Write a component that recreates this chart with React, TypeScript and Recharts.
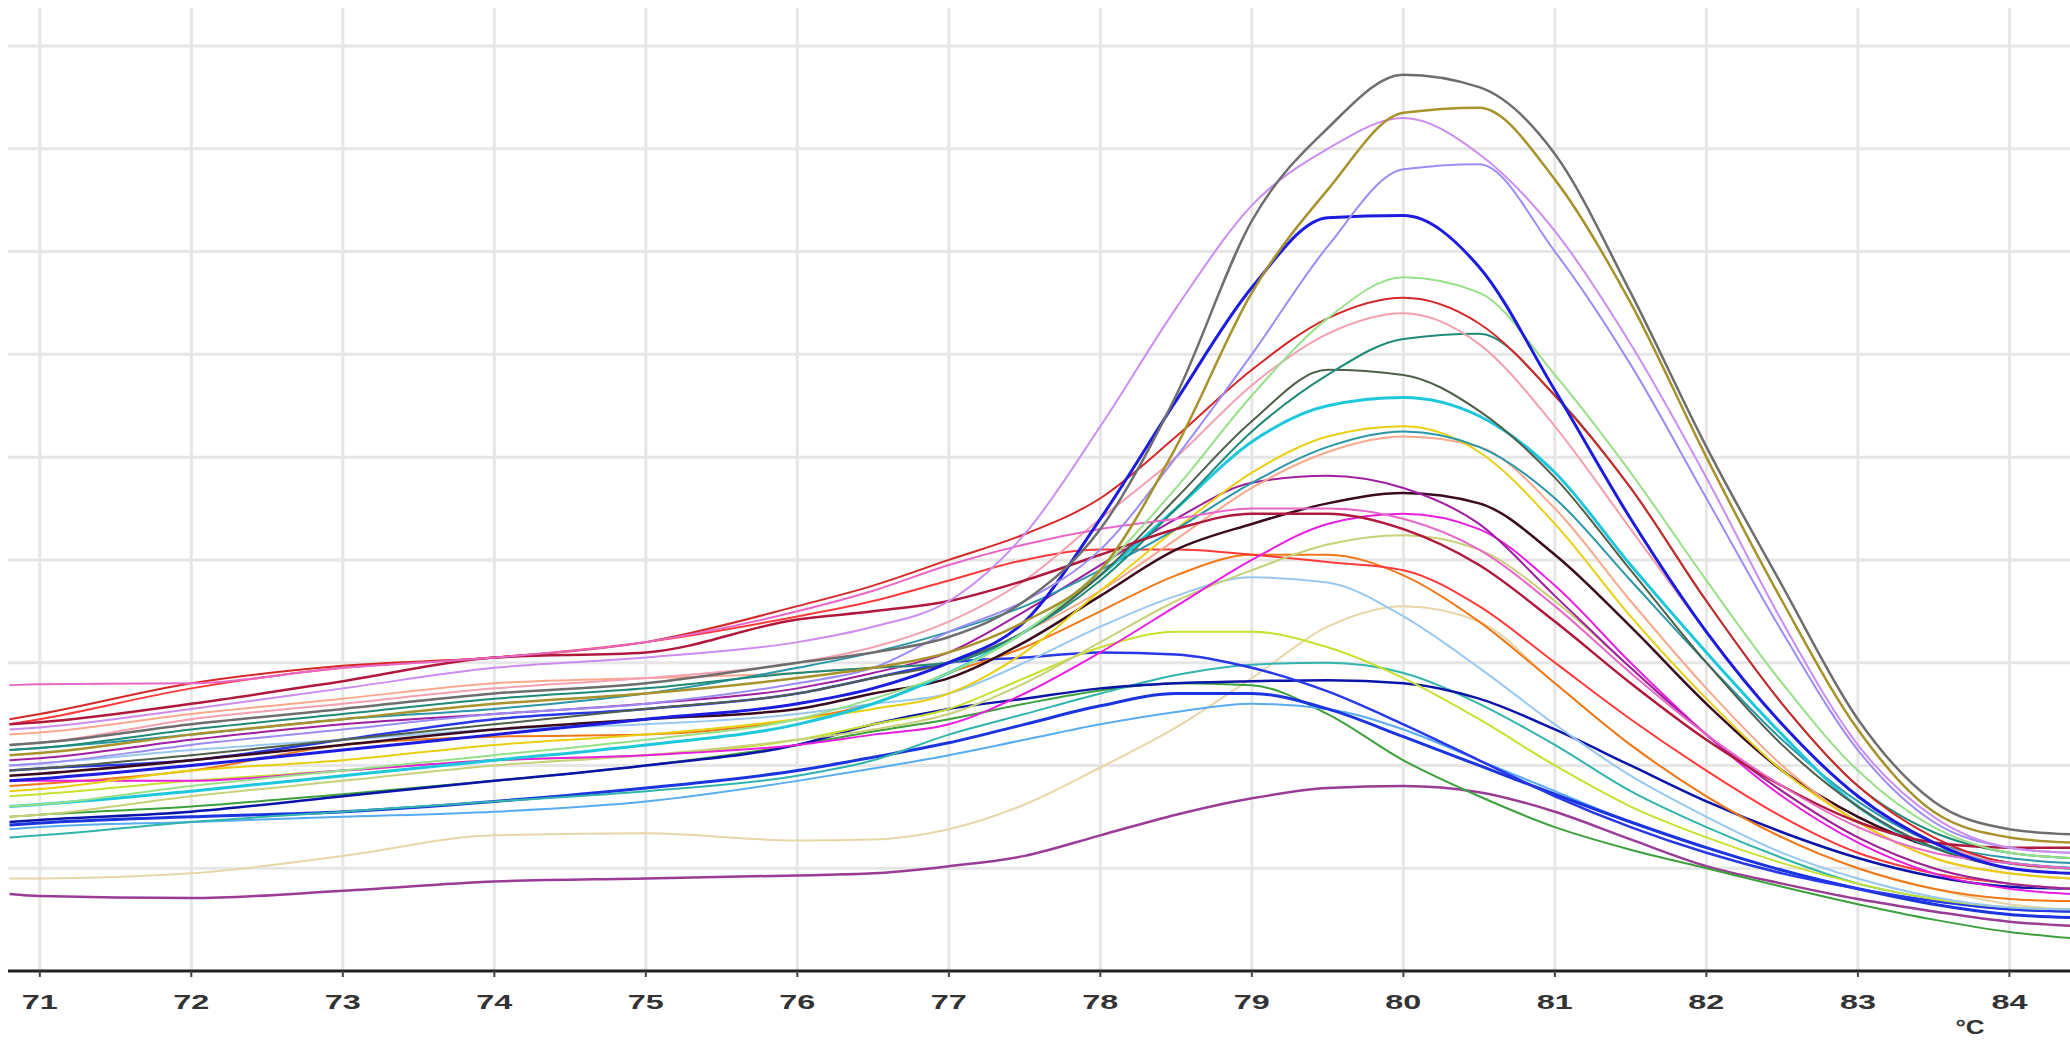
import { LineChart, Line, XAxis, YAxis, CartesianGrid } from "recharts";

// melt-curve derivative readings, one value per temperature sample
const temps = [70.8, 71, 72, 73, 74, 75, 76, 76.5, 77, 77.5, 78, 78.5, 79, 79.5, 80, 80.5, 81, 81.5, 82, 82.5, 83, 83.5, 84, 84.4];
const tempTicks = [71, 72, 73, 74, 75, 76, 77, 78, 79, 80, 81, 82, 83, 84];
const levelTicks = [1, 2, 3, 4, 5, 6, 7, 8, 9];
const xDomain = [70.79, 84.4];
const yDomain = [0, 9.37];

const gray = [2.2, 2.22, 2.4, 2.55, 2.7, 2.8, 3.0, 3.1, 3.25, 3.6, 4.3, 5.6, 7.3, 8.2, 8.72, 8.6, 7.95, 6.6, 5.1, 3.75, 2.45, 1.65, 1.38, 1.33];
const gold = [2.1, 2.12, 2.3, 2.45, 2.6, 2.7, 2.85, 2.95, 3.1, 3.4, 3.9, 5.1, 6.6, 7.6, 8.35, 8.4, 7.7, 6.5, 5.0, 3.6, 2.35, 1.55, 1.3, 1.25];
const lavender = [2.35, 2.37, 2.55, 2.75, 2.95, 3.05, 3.2, 3.35, 3.6, 4.25, 5.3, 6.45, 7.45, 8.0, 8.3, 7.95, 7.2, 6.1, 4.8, 3.4, 2.2, 1.5, 1.2, 1.15];
const lightViolet = [2.0, 2.02, 2.2, 2.35, 2.5, 2.6, 2.8, 2.95, 3.3, 3.6, 4.1, 5.0, 6.0, 7.05, 7.8, 7.85, 7.0, 5.9, 4.6, 3.3, 2.15, 1.45, 1.2, 1.15];
const blue = [1.85, 1.87, 2.0, 2.15, 2.3, 2.45, 2.6, 2.75, 3.0, 3.4, 4.4, 5.55, 6.65, 7.33, 7.35, 6.85, 5.65, 4.4, 3.3, 2.4, 1.7, 1.25, 1.0, 0.95];
const lightGreen = [1.6, 1.62, 1.8, 1.95, 2.1, 2.25, 2.45, 2.65, 2.9, 3.3, 3.9, 4.7, 5.6, 6.35, 6.75, 6.6, 5.8, 4.85, 3.8, 2.8, 1.95, 1.4, 1.15, 1.1];
const red = [2.45, 2.5, 2.8, 2.97, 3.05, 3.2, 3.55, 3.75, 4.0, 4.25, 4.6, 5.2, 5.85, 6.35, 6.55, 6.3, 5.6, 4.7, 3.6, 2.6, 1.8, 1.3, 1.05, 1.0];
const pink = [2.2, 2.22, 2.45, 2.6, 2.75, 2.85, 3.0, 3.15, 3.4, 3.8, 4.4, 5.0, 5.7, 6.2, 6.4, 6.1, 5.3, 4.3, 3.3, 2.4, 1.7, 1.25, 1.05, 1.0];
const teal = [2.15, 2.17, 2.35, 2.5, 2.65, 2.75, 2.9, 2.95, 3.0, 3.3, 3.8, 4.5, 5.25, 5.8, 6.15, 6.2, 5.6, 4.7, 3.6, 2.6, 1.8, 1.35, 1.15, 1.1];
const darkOlive = [1.95, 1.97, 2.1, 2.25, 2.4, 2.55, 2.7, 2.85, 3.0, 3.3, 3.85, 4.6, 5.35, 5.85, 5.8, 5.45, 4.8, 3.9, 3.0, 2.2, 1.6, 1.2, 1.0, 0.95];
const cyan = [1.6, 1.62, 1.75, 1.9, 2.05, 2.2, 2.4, 2.6, 2.9, 3.3, 3.85, 4.5, 5.15, 5.5, 5.58, 5.4, 4.85, 3.95, 3.1, 2.3, 1.6, 1.2, 1.05, 1.0];
const yellow = [1.75, 1.77, 1.95, 2.05, 2.2, 2.3, 2.45, 2.55, 2.7, 3.1, 3.7, 4.3, 4.85, 5.2, 5.3, 5.05, 4.35, 3.45, 2.65, 1.95, 1.45, 1.1, 0.95, 0.9];
const salmon = [2.3, 2.32, 2.5, 2.65, 2.8, 2.85, 2.9, 2.95, 3.0, 3.3, 3.7, 4.2, 4.7, 5.05, 5.2, 5.1, 4.5, 3.6, 2.75, 2.0, 1.45, 1.1, 0.95, 0.9];
const purple = [2.05, 2.07, 2.25, 2.4, 2.5, 2.6, 2.75, 2.9, 3.1, 3.5, 3.95, 4.4, 4.75, 4.82, 4.7, 4.35, 3.65, 2.95, 2.3, 1.75, 1.3, 1.0, 0.85, 0.8];
const maroon = [1.9, 1.92, 2.05, 2.2, 2.35, 2.45, 2.55, 2.7, 2.85, 3.2, 3.65, 4.1, 4.35, 4.55, 4.65, 4.55, 4.05, 3.35, 2.6, 1.95, 1.5, 1.2, 1.05, 1.0];
const magenta = [1.85, 1.85, 1.85, 1.95, 2.05, 2.1, 2.2, 2.3, 2.4, 2.7, 3.1, 3.55, 4.0, 4.35, 4.45, 4.3, 3.75, 3.0, 2.3, 1.7, 1.25, 0.95, 0.8, 0.75];
const lightOlive = [1.5, 1.52, 1.7, 1.85, 2.0, 2.1, 2.25, 2.35, 2.5, 2.8, 3.2, 3.6, 3.9, 4.15, 4.24, 4.1, 3.6, 2.95, 2.3, 1.75, 1.3, 1.0, 0.85, 0.8];
const red2 = [2.4, 2.45, 2.75, 2.95, 3.05, 3.2, 3.45, 3.6, 3.8, 4.0, 4.1, 4.1, 4.05, 3.98, 3.9, 3.55, 3.0, 2.45, 1.95, 1.5, 1.15, 0.95, 0.85, 0.8];
const orange = [1.8, 1.82, 1.95, 2.2, 2.28, 2.3, 2.45, 2.6, 2.9, 3.15, 3.5, 3.85, 4.05, 4.05, 3.85, 3.4, 2.8, 2.2, 1.7, 1.3, 1.0, 0.8, 0.7, 0.68];
const lightBlue = [2.0, 2.02, 2.15, 2.25, 2.35, 2.4, 2.5, 2.6, 2.7, 3.0, 3.35, 3.65, 3.83, 3.78, 3.45, 2.95, 2.4, 1.9, 1.5, 1.15, 0.9, 0.72, 0.62, 0.6];
const yellowGreen = [1.7, 1.72, 1.85, 1.95, 2.05, 2.1, 2.25, 2.4, 2.55, 2.85, 3.15, 3.3, 3.3, 3.15, 2.85, 2.45, 2.0, 1.6, 1.3, 1.05, 0.85, 0.7, 0.62, 0.6];
const beige = [0.9, 0.9, 0.95, 1.12, 1.32, 1.34, 1.27, 1.28, 1.38, 1.62, 1.98, 2.37, 2.85, 3.35, 3.55, 3.4, 2.8, 2.2, 1.7, 1.3, 1.0, 0.8, 0.65, 0.6];
const tealCyan = [1.3, 1.32, 1.45, 1.55, 1.65, 1.75, 1.9, 2.05, 2.3, 2.5, 2.7, 2.88, 2.98, 3.0, 2.9, 2.6, 2.2, 1.75, 1.4, 1.1, 0.85, 0.7, 0.6, 0.58];
const blue78 = [1.95, 1.97, 2.05, 2.25, 2.45, 2.55, 2.7, 2.85, 3.0, 3.05, 3.1, 3.08, 2.95, 2.72, 2.4, 2.05, 1.7, 1.4, 1.15, 0.95, 0.8, 0.68, 0.6, 0.58];
const navy = [1.45, 1.47, 1.55, 1.7, 1.85, 2.0, 2.2, 2.4, 2.55, 2.65, 2.75, 2.8, 2.82, 2.83, 2.8, 2.65, 2.35, 2.0, 1.65, 1.35, 1.1, 0.92, 0.82, 0.8];
const green = [1.5, 1.52, 1.6, 1.72, 1.85, 2.0, 2.2, 2.33, 2.45, 2.6, 2.73, 2.8, 2.78, 2.5, 2.05, 1.7, 1.4, 1.18, 1.0, 0.82, 0.65, 0.5, 0.38, 0.32];
const blueLow = [1.42, 1.44, 1.5, 1.55, 1.65, 1.78, 1.95, 2.08, 2.22, 2.4, 2.58, 2.7, 2.7, 2.55, 2.28, 2.0, 1.72, 1.45, 1.2, 0.98, 0.8, 0.65, 0.55, 0.52];
const lightBlueLow = [1.38, 1.4, 1.45, 1.5, 1.55, 1.65, 1.85, 1.97, 2.1, 2.25, 2.4, 2.52, 2.6, 2.55, 2.35, 2.05, 1.75, 1.45, 1.2, 0.98, 0.8, 0.68, 0.6, 0.58];
const purpleBottom = [0.75, 0.73, 0.71, 0.78, 0.87, 0.9, 0.93, 0.95, 1.02, 1.12, 1.32, 1.52, 1.68, 1.78, 1.8, 1.74, 1.55, 1.28, 1.02, 0.85, 0.7, 0.58, 0.48, 0.44];
const pinkTop = [2.78, 2.79, 2.8, 2.95, 3.05, 3.2, 3.5, 3.7, 3.95, 4.15, 4.3, 4.4, 4.5, 4.5, 4.4, 4.1, 3.55, 2.9, 2.3, 1.8, 1.4, 1.15, 1.05, 1.0];
const crimson = [2.4, 2.42, 2.6, 2.82, 3.05, 3.1, 3.42, 3.5, 3.6, 3.8, 4.05, 4.3, 4.45, 4.45, 4.3, 3.95, 3.4, 2.8, 2.25, 1.8, 1.45, 1.25, 1.2, 1.2];
const teal2 = [2.15, 2.17, 2.3, 2.45, 2.55, 2.7, 2.95, 3.1, 3.3, 3.55, 3.9, 4.3, 4.75, 5.1, 5.25, 5.1, 4.6, 3.8, 3.0, 2.25, 1.65, 1.25, 1.1, 1.05];

const series = [
  { key: "purpleBottom", color: "#9a3c96", width: 2.5, values: purpleBottom },
  { key: "beige", color: "#e6d6a8", width: 2, values: beige },
  { key: "green", color: "#3ca03c", width: 2, values: green },
  { key: "lightBlueLow", color: "#58acf0", width: 2, values: lightBlueLow },
  { key: "blueLow", color: "#1a34e0", width: 3, values: blueLow },
  { key: "tealCyan", color: "#30b4ac", width: 2, values: tealCyan },
  { key: "navy", color: "#0a14a8", width: 2.5, values: navy },
  { key: "blue78", color: "#2838e8", width: 2.5, values: blue78 },
  { key: "yellowGreen", color: "#c8e030", width: 2, values: yellowGreen },
  { key: "lightBlue", color: "#98c8f0", width: 2, values: lightBlue },
  { key: "orange", color: "#f07818", width: 2, values: orange },
  { key: "red2", color: "#ff3a3a", width: 2, values: red2 },
  { key: "lightOlive", color: "#c8d078", width: 2, values: lightOlive },
  { key: "magenta", color: "#e81ee0", width: 2, values: magenta },
  { key: "maroon", color: "#3a0a1e", width: 2.5, values: maroon },
  { key: "purple", color: "#a01ea0", width: 2, values: purple },
  { key: "salmon", color: "#f8a88c", width: 2, values: salmon },
  { key: "yellow", color: "#e8d010", width: 2, values: yellow },
  { key: "teal2", color: "#2a96a8", width: 2, values: teal2 },
  { key: "cyan", color: "#1ec8dc", width: 3, values: cyan },
  { key: "darkOlive", color: "#4f5f4a", width: 2, values: darkOlive },
  { key: "teal", color: "#1f8a78", width: 2, values: teal },
  { key: "pink", color: "#f4a0b0", width: 2, values: pink },
  { key: "red", color: "#d42828", width: 2, values: red },
  { key: "crimson", color: "#b0183c", width: 2.5, values: crimson },
  { key: "pinkTop", color: "#e868c8", width: 2, values: pinkTop },
  { key: "lightGreen", color: "#98e088", width: 2, values: lightGreen },
  { key: "blue", color: "#1c1ce0", width: 3, values: blue },
  { key: "lightViolet", color: "#9c8cf4", width: 2, values: lightViolet },
  { key: "lavender", color: "#cc8cf0", width: 2, values: lavender },
  { key: "gold", color: "#a8922c", width: 2.5, values: gold },
  { key: "gray", color: "#6e6e6e", width: 2.5, values: gray },
];

const data = temps.map((t, i) => {
  const row: Record<string, number> = { t };
  series.forEach((s) => {
    row[s.key] = s.values[i];
  });
  return row;
});

// grid lines only at the tick values (no extra lines on the plot edges)
const scaleValue = (scale: any, v: number) => {
  if (typeof scale === "function") return scale(v);
  if (scale && typeof scale.map === "function") return scale.map(v);
  return undefined;
};
const verticalGrid = (p: any) =>
  tempTicks.map((t) => {
    const px = scaleValue(p?.xAxis?.scale, t);
    if (typeof px === "number" && !Number.isNaN(px)) return px;
    const o = p.offset;
    return o.left + ((t - xDomain[0]) / (xDomain[1] - xDomain[0])) * o.width;
  });
const horizontalGrid = (p: any) =>
  levelTicks.map((v) => {
    const py = scaleValue(p?.yAxis?.scale, v);
    if (typeof py === "number" && !Number.isNaN(py)) return py;
    const o = p.offset;
    return o.top + (1 - (v - yDomain[0]) / (yDomain[1] - yDomain[0])) * o.height;
  });

const TempTick = (props: any) => {
  const { x, y, payload } = props;
  return (
    <text
      x={x}
      y={y + 30}
      textAnchor="middle"
      fontFamily="'Liberation Sans', Arial, sans-serif"
      fontWeight="bold"
      fontSize={20}
      fill="#333"
      textLength={36}
      lengthAdjust="spacingAndGlyphs"
    >
      {payload.value}
    </text>
  );
};

const App = () => (
  <div style={{ position: "fixed", left: 0, top: 0, width: 2070, height: 1051, background: "#fff" }}>
    <LineChart width={2070} height={1051} data={data} margin={{ top: 8, right: 0, bottom: 0, left: 8 }}>
      <CartesianGrid
        stroke="#e6e6e6"
        strokeWidth={3}
        verticalCoordinatesGenerator={verticalGrid}
        horizontalCoordinatesGenerator={horizontalGrid}
      />
      <XAxis
        dataKey="t"
        type="number"
        domain={xDomain}
        ticks={tempTicks}
        allowDataOverflow
        height={80}
        axisLine={{ stroke: "#222", strokeWidth: 3 }}
        tickLine={{ stroke: "#444", strokeWidth: 2 }}
        tickSize={6}
        tick={<TempTick />}
      />
      <YAxis hide domain={yDomain} ticks={levelTicks} allowDataOverflow />
      {series.map((s) => (
        <Line
          key={s.key}
          dataKey={s.key}
          type="monotone"
          stroke={s.color}
          strokeWidth={s.width}
          dot={false}
          isAnimationActive={false}
        />
      ))}
    </LineChart>
    <div
      style={{
        position: "absolute",
        left: 1952,
        top: 1016,
        width: 36,
        textAlign: "center",
        fontFamily: "'Liberation Sans', Arial, sans-serif",
        fontWeight: "bold",
        fontSize: 20,
        lineHeight: "22px",
        color: "#333",
        transform: "scaleX(1.3)",
      }}
    >
      °C
    </div>
  </div>
);

export default App;
